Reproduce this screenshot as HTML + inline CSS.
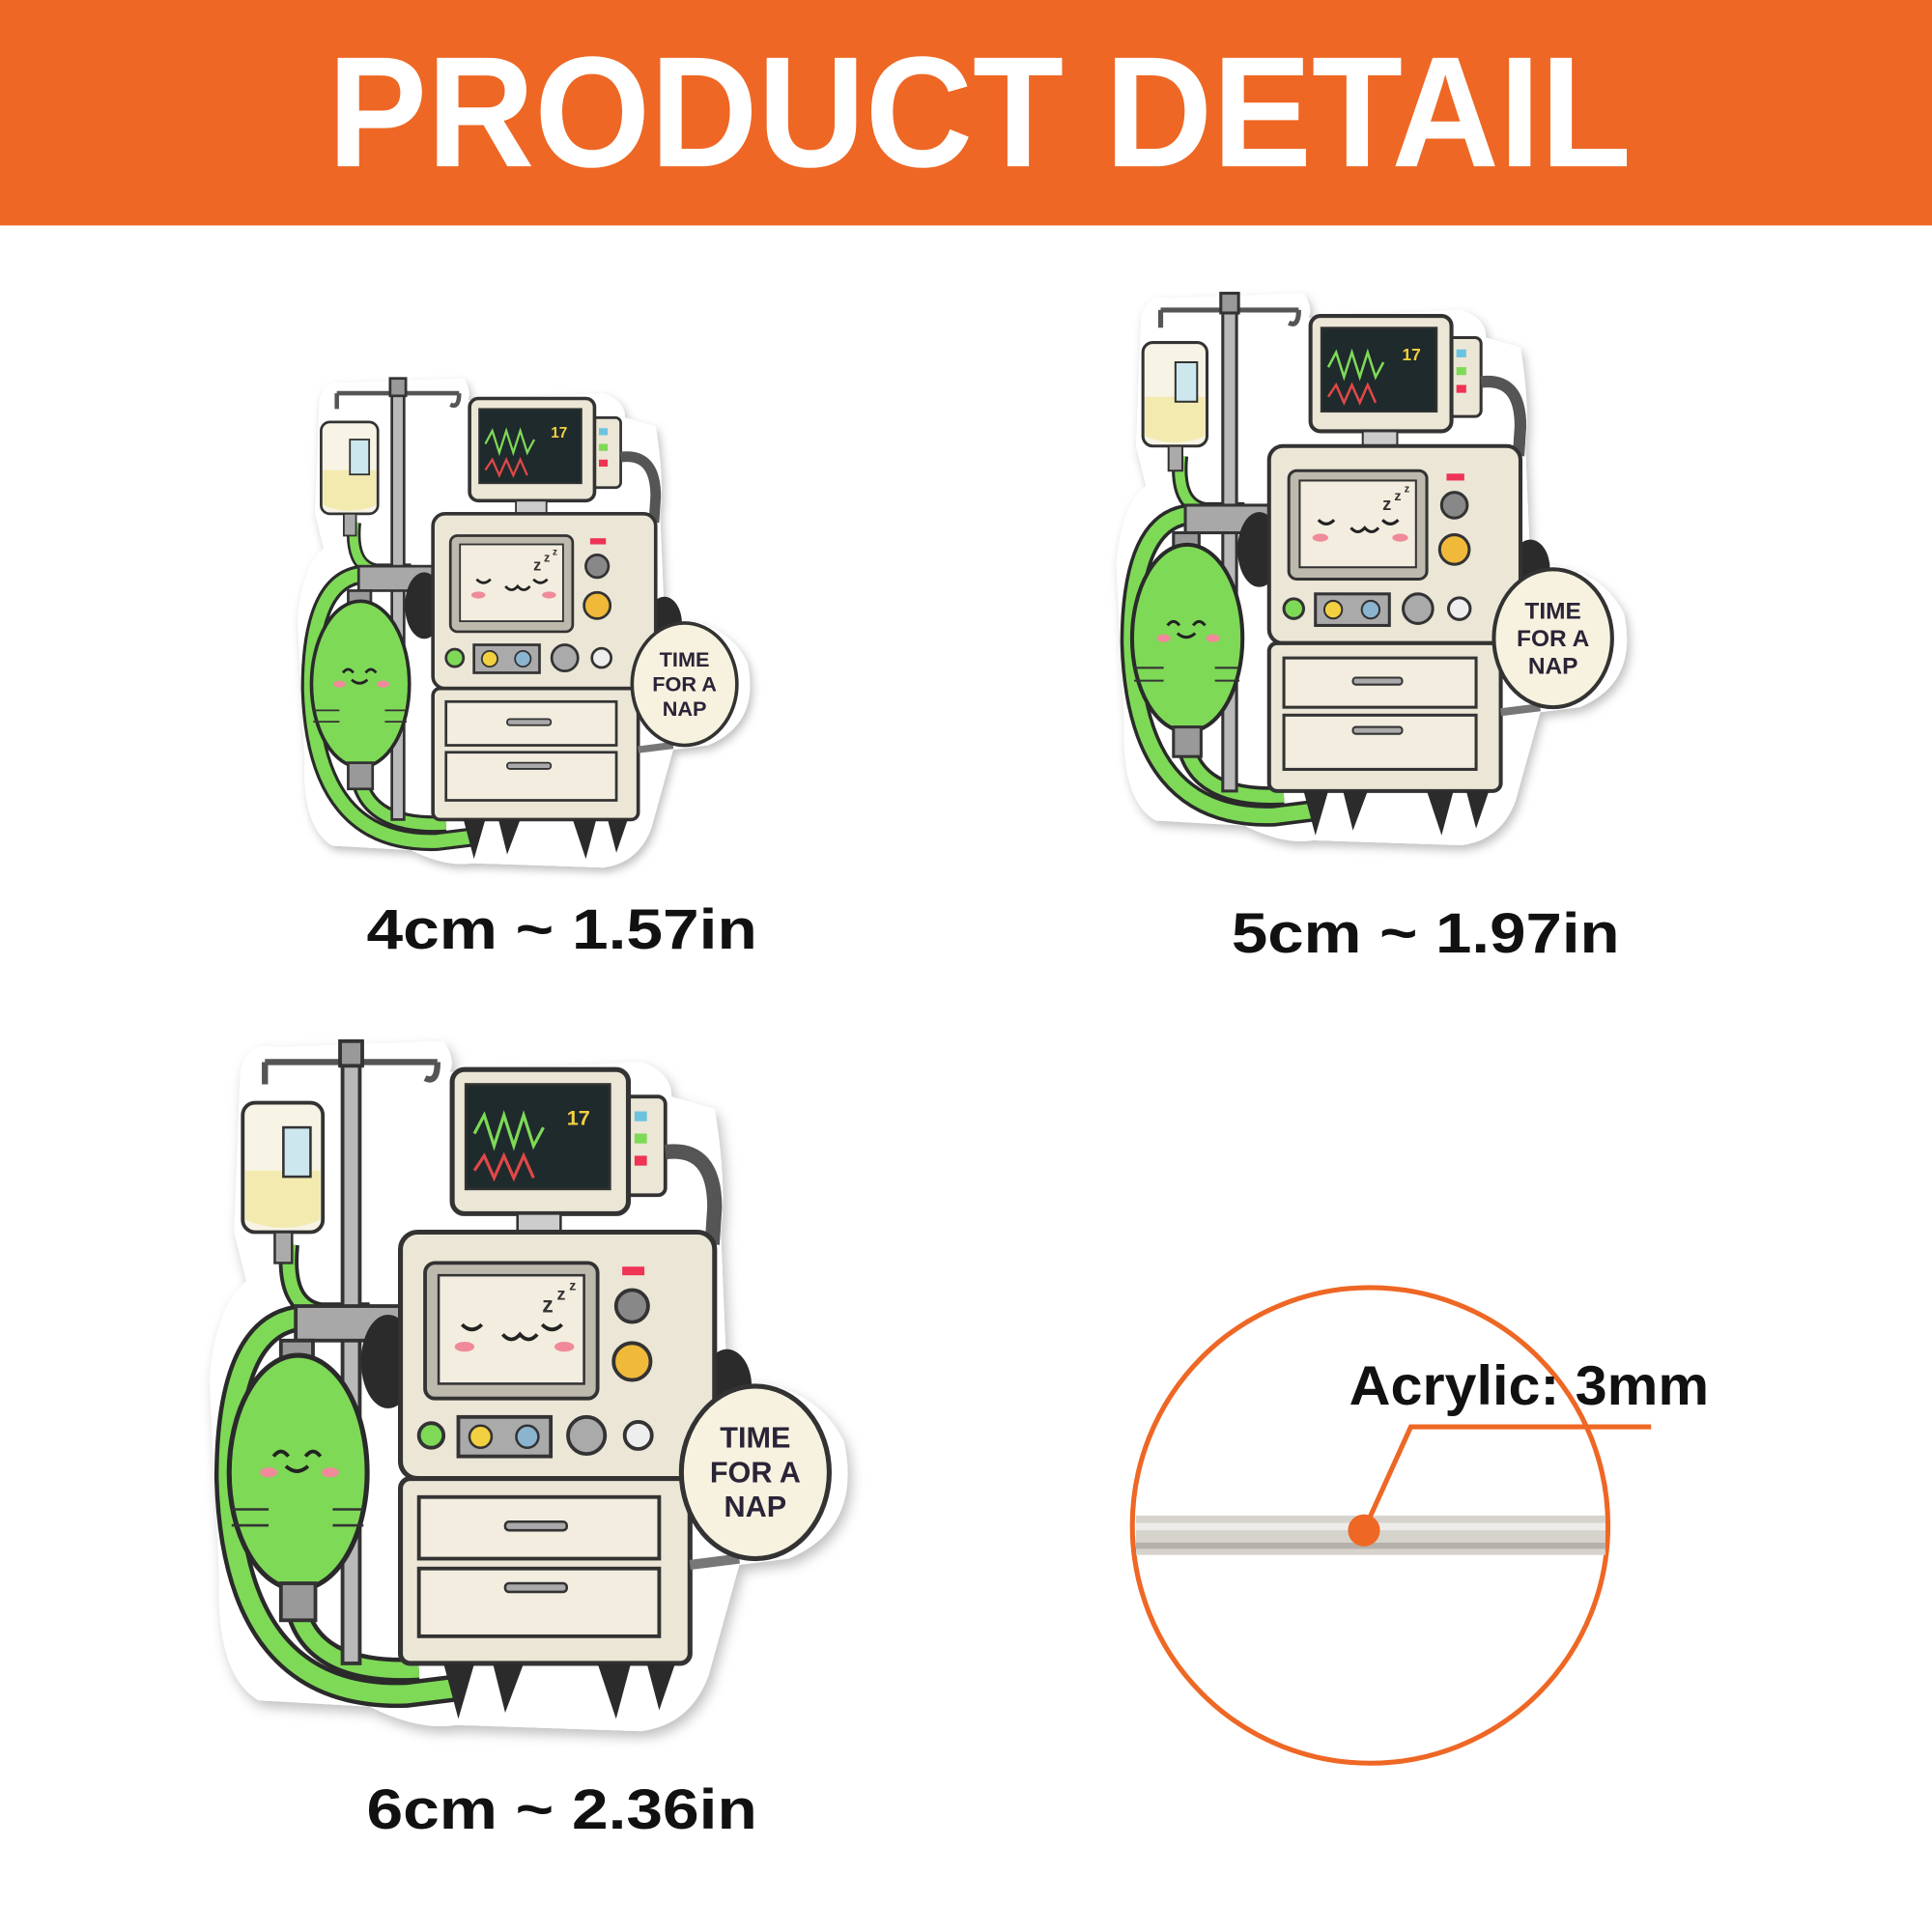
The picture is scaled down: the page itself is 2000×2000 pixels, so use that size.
<!DOCTYPE html>
<html><head><meta charset="utf-8"><style>
html,body{margin:0;padding:0;background:#fff}
svg{display:block}
text{font-family:"Liberation Sans","DejaVu Sans",sans-serif;font-weight:bold}
</style></head><body>
<svg width="2000" height="2000" viewBox="0 0 1568 1568" xmlns="http://www.w3.org/2000/svg">
<defs>
<filter id="sh" x="-10%" y="-10%" width="120%" height="120%"><feDropShadow dx="3" dy="5" stdDeviation="5" flood-color="#000" flood-opacity="0.25"/></filter>
<g id="st">
 <path d="M195,870 Q200,845 225,850 L360,845 Q370,860 365,870 L520,862 Q545,870 545,890 L580,900 Q590,960 585,1000 L590,1120 Q660,1120 685,1170 Q700,1240 640,1265 L600,1270 L575,1360 Q560,1400 520,1405 L370,1400 Q340,1405 300,1385 L210,1380 Q175,1360 178,1280 L170,1120 Q175,1060 200,1040 L190,1000 Z" fill="#fff" filter="url(#sh)"/>
 <path d="M235,1010 Q230,1060 260,1065 L300,1065" fill="none" stroke="#2a2a2a" stroke-width="16"/>
 <path d="M235,1010 Q230,1060 260,1065 L300,1065" fill="none" stroke="#7ed957" stroke-width="10"/>
 <path d="M240,1070 Q185,1080 185,1200 Q190,1380 330,1375 L370,1370" fill="none" stroke="#2a2a2a" stroke-width="22"/>
 <path d="M240,1070 Q185,1080 185,1200 Q190,1380 330,1375 L370,1370" fill="none" stroke="#7ed957" stroke-width="15"/>
 <path d="M240,1300 Q250,1360 340,1355" fill="none" stroke="#2a2a2a" stroke-width="20"/>
 <path d="M240,1300 Q250,1360 340,1355" fill="none" stroke="#7ed957" stroke-width="13"/>
 <rect x="278" y="850" width="14" height="500" fill="#b9b9b9" stroke="#333" stroke-width="3"/>
 <path d="M215,862 L355,862 M215,862 L215,880 M355,862 Q355,880 345,875" fill="none" stroke="#555" stroke-width="5"/>
 <rect x="276" y="845" width="18" height="20" fill="#999" stroke="#333" stroke-width="3"/>
 <rect x="197" y="895" width="65" height="105" rx="10" fill="#f7f4e6" stroke="#333" stroke-width="3"/>
 <path d="M199,950 L260,950 L260,990 Q230,1003 199,990 Z" fill="#f3eab0"/>
 <rect x="230" y="915" width="22" height="40" fill="#cce8ee" stroke="#333" stroke-width="2"/>
 <rect x="223" y="1000" width="14" height="25" fill="#aaa" stroke="#333" stroke-width="2"/>
 <rect x="240" y="1060" width="90" height="28" fill="#a8a8a8" stroke="#333" stroke-width="3"/>
 <rect x="228" y="1088" width="26" height="20" fill="#999" stroke="#333" stroke-width="3"/>
 <ellipse cx="242" cy="1195" rx="56" ry="95" fill="#7ed957" stroke="#2a2a2a" stroke-width="4"/>
 <rect x="228" y="1285" width="28" height="30" fill="#999" stroke="#333" stroke-width="3"/>
 <path d="M222,1182 q6,-8 12,0 M248,1182 q6,-8 12,0 M232,1190 q9,8 18,0" fill="none" stroke="#222" stroke-width="3"/>
 <ellipse cx="218" cy="1195" rx="7" ry="4" fill="#f08a9a"/><ellipse cx="268" cy="1195" rx="7" ry="4" fill="#f08a9a"/>
 <path d="M188,1225 h30 M188,1238 h30 M270,1225 h25 M270,1238 h25" stroke="#333" stroke-width="2"/>
 <rect x="505" y="890" width="35" height="80" rx="6" fill="#ebe6d6" stroke="#333" stroke-width="3"/>
 <rect x="515" y="902" width="10" height="8" fill="#6bc3e0"/><rect x="515" y="920" width="10" height="8" fill="#7ed957"/><rect x="515" y="938" width="10" height="8" fill="#e35"/>
 <path d="M540,935 Q580,930 580,980 L578,1010" fill="none" stroke="#555" stroke-width="12"/>
 <rect x="367" y="868" width="143" height="117" rx="10" fill="#ebe6d6" stroke="#333" stroke-width="4"/>
 <rect x="378" y="880" width="117" height="85" fill="#1f2a2c" stroke="#333" stroke-width="2"/>
 <path d="M385,920 l8,-15 8,25 8,-25 8,25 8,-25 8,25 8,-15" fill="none" stroke="#7ed957" stroke-width="2.5"/>
 <path d="M385,950 l8,-12 8,18 8,-18 8,18 8,-18 8,18" fill="none" stroke="#e04848" stroke-width="2.5"/>
 <text x="460" y="913" font-size="17" fill="#f3d040">17</text>
 <rect x="420" y="985" width="35" height="15" fill="#ccc" stroke="#333" stroke-width="2"/>
 <ellipse cx="315" cy="1105" rx="22" ry="38" fill="#2b2b2b"/>
 <ellipse cx="590" cy="1125" rx="20" ry="30" fill="#2b2b2b"/>
 <rect x="325" y="1000" width="255" height="200" rx="14" fill="#ebe6d6" stroke="#333" stroke-width="4"/>
 <rect x="345" y="1025" width="140" height="110" rx="8" fill="#bdb9ad" stroke="#333" stroke-width="3"/>
 <rect x="356" y="1035" width="118" height="88" fill="#f2eddf" stroke="#333" stroke-width="2"/>
 <path d="M375,1075 q8,8 16,0 M408,1083 q7,8 14,0 q7,8 14,0 M440,1075 q8,8 16,0" fill="none" stroke="#222" stroke-width="3"/>
 <ellipse cx="377" cy="1093" rx="8" ry="4" fill="#f08a9a"/><ellipse cx="458" cy="1093" rx="8" ry="4" fill="#f08a9a"/>
 <text x="440" y="1065" font-size="18" fill="#333">z</text><text x="452" y="1055" font-size="14" fill="#333">z</text><text x="462" y="1047" font-size="11" fill="#333">z</text>
 <rect x="505" y="1028" width="18" height="7" fill="#e35"/>
 <circle cx="513" cy="1060" r="13" fill="#888" stroke="#333" stroke-width="3"/>
 <circle cx="513" cy="1105" r="15" fill="#f0b93a" stroke="#333" stroke-width="3"/>
 <circle cx="350" cy="1165" r="10" fill="#7ed957" stroke="#333" stroke-width="3"/>
 <rect x="372" y="1150" width="75" height="32" fill="#aaa" stroke="#333" stroke-width="3"/>
 <circle cx="390" cy="1166" r="9" fill="#f3d040" stroke="#333" stroke-width="2"/><circle cx="428" cy="1166" r="9" fill="#8ab4d0" stroke="#333" stroke-width="2"/>
 <circle cx="476" cy="1165" r="15" fill="#aaa" stroke="#333" stroke-width="3"/>
 <circle cx="518" cy="1165" r="11" fill="#eee" stroke="#333" stroke-width="3"/>
 <rect x="325" y="1200" width="235" height="150" rx="8" fill="#ebe6d6" stroke="#333" stroke-width="4"/>
 <rect x="340" y="1215" width="195" height="50" fill="#f2eddf" stroke="#333" stroke-width="3"/>
 <rect x="340" y="1273" width="195" height="55" fill="#f2eddf" stroke="#333" stroke-width="3"/>
 <rect x="410" y="1235" width="50" height="7" rx="3" fill="#aaa" stroke="#333" stroke-width="2"/>
 <rect x="410" y="1285" width="50" height="7" rx="3" fill="#aaa" stroke="#333" stroke-width="2"/>
 <path d="M360,1350 L372,1395 L385,1350 Z M400,1350 L410,1390 L425,1350 Z M485,1350 L500,1395 L512,1350 Z M525,1350 L535,1388 L548,1350 Z" fill="#2b2b2b"/>
 <path d="M560,1270 L600,1265" stroke="#777" stroke-width="8"/>
 <ellipse cx="613" cy="1195" rx="60" ry="70" fill="#f7f2df" stroke="#333" stroke-width="4"/>
 <text x="613" y="1175" font-size="24" text-anchor="middle" fill="#2a2438">TIME</text>
 <text x="613" y="1203" font-size="24" text-anchor="middle" fill="#2a2438">FOR A</text>
 <text x="613" y="1231" font-size="24" text-anchor="middle" fill="#2a2438">NAP</text>
</g>
</defs>
<rect width="1568" height="1568" fill="#fff"/>
<rect width="1568" height="183" fill="#ee6724"/>
<text x="795" y="135" font-size="128" text-anchor="middle" fill="#fff" textLength="1058" lengthAdjust="spacingAndGlyphs">PRODUCT DETAIL</text>

<use href="#st" transform="translate(245,300) scale(0.709) translate(-175,-835)"/>
<use href="#st" transform="translate(910,230) scale(0.80) translate(-175,-835)"/>
<use href="#st"/>

<text x="456" y="770" font-size="46" text-anchor="middle" fill="#111" textLength="317" lengthAdjust="spacingAndGlyphs">4cm ~ 1.57in</text>
<text x="1157" y="773" font-size="46" text-anchor="middle" fill="#111" textLength="315" lengthAdjust="spacingAndGlyphs">5cm ~ 1.97in</text>
<text x="456" y="1484" font-size="46" text-anchor="middle" fill="#111" textLength="317" lengthAdjust="spacingAndGlyphs">6cm ~ 2.36in</text>

<circle cx="1112" cy="1238" r="193" fill="#fff" stroke="#ee6724" stroke-width="4"/>
<rect x="922" y="1230" width="381" height="32" fill="#d6d3cc"/>
<rect x="922" y="1236" width="381" height="6" fill="#eeece8"/>
<rect x="922" y="1252" width="381" height="5" fill="#b5b1aa"/>
<text x="1095" y="1140" font-size="45" fill="#111" textLength="292" lengthAdjust="spacingAndGlyphs">Acrylic: 3mm</text>
<path d="M1107,1242 L1145,1158 L1340,1158" fill="none" stroke="#ee6724" stroke-width="4"/>
<circle cx="1107" cy="1242" r="13" fill="#ee6724"/>
</svg>
</body></html>
